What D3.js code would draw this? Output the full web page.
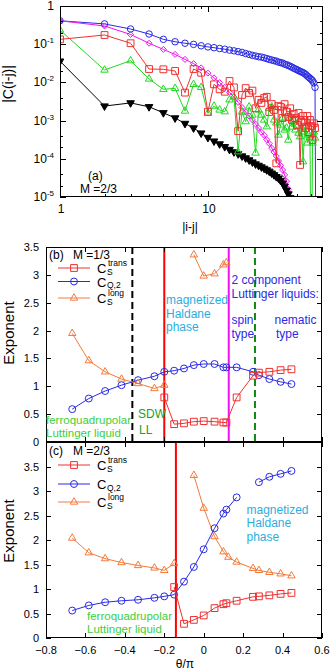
<!DOCTYPE html>
<html lang="en">
<head>
  <meta charset="UTF-8">
  <title>Correlations and exponents</title>
  <script src="https://d3js.org/d3.v7.min.js"></script>
  <style>
    body { margin: 0; background: #fff; }
    svg { display: block; font-family: "Liberation Sans", Arial, sans-serif; }
  </style>
</head>
<body>
  <svg width="332" height="670"></svg>

  <script>
    // ---- panel (a): |C(i-j)| against distance |i-j| = 1, 2, 3, ...
    const cQ2Vals = [0.41, 0.34, 0.25, 0.185, 0.134, 0.116, 0.106, 0.099, 0.091, 0.085,
      0.081, 0.077, 0.074, 0.070, 0.067, 0.064, 0.061, 0.057, 0.054, 0.051,
      0.049, 0.047, 0.046, 0.044, 0.042, 0.040, 0.0386, 0.037, 0.036, 0.034,
      0.033, 0.032, 0.030, 0.029, 0.0276, 0.0264, 0.025, 0.0236, 0.0225, 0.0215,
      0.0204, 0.0195, 0.0187, 0.018, 0.017, 0.0159, 0.0147, 0.0137, 0.0128, 0.012,
      0.011, 0.0097, 0.0074, 1e-9];
    const magentaVals = [0.41, 0.30, 0.18, 0.106, 0.073, 0.054, 0.040, 0.031, 0.024, 0.0175,
      0.0132, 0.0099, 0.0074, 0.0055, 0.0041, 0.0030, 0.0022, 0.00168, 0.00132, 0.00104,
      8.1e-4, 6.4e-4, 5.0e-4, 4.1e-4, 3.2e-4, 2.5e-4, 1.9e-4, 1.5e-4, 1.18e-4, 8.8e-5,
      6.7e-5, 5.1e-5, 3.8e-5, 2.6e-5, 1.6e-5, 1.0e-5, 6e-6];
    const blackVals = [0.036, 0.0024, 0.0029, 0.0023, 0.0016, 0.00117, 8.4e-4, 6.4e-4, 4.7e-4, 3.6e-4,
      2.9e-4, 2.44e-4, 2.07e-4, 1.75e-4, 1.51e-4, 1.34e-4, 1.18e-4, 1.05e-4, 9.3e-5, 8.2e-5,
      7.3e-5, 6.7e-5, 6.1e-5, 5.6e-5, 5.1e-5, 4.7e-5, 4.2e-5, 3.8e-5, 3.4e-5, 3.1e-5,
      2.7e-5, 2.3e-5, 1.9e-5, 1.5e-5, 1.2e-5, 9.5e-6];
    const redVals = [0.134, 0.174, 0.106, 0.0224, 0.022, 0.0199, 0.0054, 0.0224, 0.0179, 0.00171,
      0.0089, 0.0066, 0.0057, 0.0109, 0.0074, 5.3e-4, 0.0047, 0.0071, 0.0053, 0.0061,
      0.0021, 0.0035, 0.0029, 0.0039, 0.0042, 0.00168, 0.0027, 0.0019, 7.6e-5, 0.0024,
      0.0023, 0.00117, 0.0027, 0.00168, 0.00124, 0.0021, 0.00104, 0.00149, 0.00116, 7.7e-4,
      0.00158, 6.9e-5, 9.2e-4, 0.00132, 0.00104, 6.4e-4, 0.00132, 5.0e-4, 0.00104, 7.2e-4,
      3.1e-4, 8.5e-4, 6.4e-4];
    const greenVals = [0.235, 0.0211, 0.037, 0.0123, 0.0066, 0.0070, 0.00178, 0.0089, 0.0074, 0.00155,
      0.0024, 0.0019, 0.00171, 0.0035, 0.0042, 1.53e-4, 0.00168, 9.4e-4, 0.0023, 0.0014,
      1.42e-4, 0.0019, 0.0014, 0.00104, 6.9e-4, 0.0021, 0.0023, 0.00104, 8.7e-4, 4.2e-4,
      7.7e-4, 0.00117, 5.7e-4, 6.4e-4, 3.1e-4, 0.00124, 6.8e-4, 0.00104, 5.7e-4, 6.9e-4,
      4.7e-4, 3.8e-4, 6.4e-4, 8.4e-5, 5.1e-4, 6.9e-4, 2.6e-4, 4.2e-4, 3.7e-4, 1e-8,
      2.6e-4, 5.0e-4, 3.5e-4];
    const yTicksA = [1, 1e-1, 1e-2, 1e-3, 1e-4, 1e-5];
    const xTicksA = [1, 10];

    // ---- panel (b): exponents, M = 1/3
    const thetaB = [-0.667, -0.583, -0.5, -0.417, -0.333, -0.25, -0.2, -0.15, -0.1, -0.05,
      0, 0.055, 0.1, 0.115, 0.167, 0.25, 0.28, 0.333, 0.39, 0.445];
    const cQ2B = [0.59, 0.78, 0.915, 1.02, 1.11, 1.18, 1.26, 1.28, 1.32, 1.38,
      1.40, 1.40, 1.34, 1.34, 1.34, 1.26, 1.20, 1.13, 1.08, 1.04];
    const thetaTransB = [-0.2, -0.15, -0.1, -0.05, 0, 0.055, 0.1, 0.115, 0.167, 0.25, 0.28, 0.333, 0.39, 0.445];
    const transB = [0.80, 0.32, 0.335, 0.365, 0.375, 0.365, 0.35, 0.35, 0.80, 1.19, 1.245, 1.26, 1.29, 1.305];
    const thetaLongB = [-0.667, -0.583, -0.5, -0.417, -0.333, -0.25, -0.2, null, -0.05, 0, 0.055, 0.1, 0.115];
    const longB = [1.95, 1.46, 1.26, 1.13, 1.05, 0.96, 1.02, null, 3.36, 2.98, 3.02, 3.18, 3.22];
    const boundsB = [-0.362, -0.2, 0.127, 0.26];

    // ---- panel (c): exponents, M = 2/3
    const thetaTransC = [-0.15, -0.1, -0.05, 0, 0.055, 0.1, 0.115, 0.167, 0.25, 0.28, 0.333, 0.39, 0.445];
    const transC = [1.04, 0.29, 0.37, 0.46, 0.61, 0.69, 0.71, 0.76, 0.84, 0.85, 0.87, 0.90, 0.92];
    const thetaQ2C = [-0.667, -0.583, -0.5, -0.417, -0.333, -0.25, -0.2, -0.15, -0.1, -0.05,
      0, 0.055, 0.1, 0.115, 0.167, null, 0.28, 0.333, 0.39, 0.445];
    const cQ2C = [0.56, 0.665, 0.73, 0.76, 0.78, 0.82, 0.85, 0.885, 1.15, 1.45,
      1.81, 2.24, 2.54, 2.62, 2.87, null, 3.18, 3.29, 3.35, 3.41];
    const thetaLongC = [-0.667, -0.583, -0.5, -0.417, -0.333, -0.25, -0.2, -0.15, null, -0.05,
      0, 0.055, 0.1, 0.125, 0.167, 0.25, 0.28, 0.333, 0.39, 0.445];
    const longC = [2.04, 1.74, 1.62, 1.54, 1.48, 1.43, 1.38, 1.52, null, 3.32,
      2.65, 2.07, 1.76, 1.65, 1.55, 1.42, 1.38, 1.34, 1.31, 1.27];
    const boundsC = [-0.141];
    const xTicksT = [-0.8, -0.6, -0.4, -0.2, 0, 0.2, 0.4, 0.6];

    const RED = "#f03030", BLUE = "#2a2ae6", GREEN = "#22d822", MAGENTA = "#f010f0",
          ORANGE = "#f47a3a", CYAN = "#2aaee0", DKGREEN = "#118811";

    const svg = d3.select("svg");

    const boxA = { left: 60, right: 323, top: 6, bottom: 197 };
    const boxB = { left: 46, right: 322, top: 247, bottom: 442 };
    const boxC = { left: 46, right: 322, top: 442, bottom: 638 };

    const xA = d3.scaleLog().domain([1, 60]).range([boxA.left, boxA.right]);
    const yA = d3.scaleLog().domain([1e-5, 1]).range([boxA.bottom, boxA.top]);
    const xT = d3.scaleLinear().domain([-0.8, 0.6]).range([boxB.left, boxB.right]);
    const yB = d3.scaleLinear().domain([0, 3.5]).range([boxB.bottom, boxB.top]);
    const yC = d3.scaleLinear().domain([0, 4]).range([boxC.bottom, boxC.top]);

    const symbols = {
      circle: d3.symbol(d3.symbolCircle, 38)(),
      circleSmall: d3.symbol(d3.symbolCircle, 33)(),
      square: d3.symbol(d3.symbolSquare, 46)(),
      triangle: d3.symbol(d3.symbolTriangle, 24)(),
      triangleDown: d3.symbol(d3.symbolTriangle, 25)(),
      diamond: "M0,-3L3,0L0,3L-3,0Z"
    };

    function clipFor(id, b) {
      svg.append("clipPath").attr("id", id).append("rect")
        .attr("x", b.left).attr("y", b.top)
        .attr("width", b.right - b.left).attr("height", b.bottom - b.top);
      return svg.append("g").attr("clip-path", `url(#${id})`);
    }

    function series(g, xs, ys, xs_, ys_, color, sym, opts = {}) {
      const pts = xs.map((x, i) => ({ x, y: ys[i] }));
      const ok = d => d.x != null && d.y != null;
      const line = d3.line().defined(ok).x(d => xs_(d.x)).y(d => ys_(d.y));
      g.append("path").datum(pts)
        .attr("fill", "none").attr("stroke", color).attr("stroke-width", 1)
        .attr("d", line);
      g.selectAll(null).data(pts.filter(ok)).join("path")
        .attr("transform", d => `translate(${xs_(d.x)},${ys_(d.y)})${opts.flip ? " rotate(180)" : ""}`)
        .attr("d", symbols[sym])
        .attr("fill", opts.fill || "none")
        .attr("stroke", color).attr("stroke-width", 1);
    }

    function frame(b) {
      svg.append("rect")
        .attr("x", b.left + 0.5).attr("y", b.top + 0.5)
        .attr("width", b.right - b.left - 1).attr("height", b.bottom - b.top - 1)
        .attr("fill", "none").attr("stroke", "#000").attr("stroke-width", 1);
    }

    function tickX(scale, vals, b, len) {
      vals.forEach(v => {
        const x = Math.round(scale(v)) + 0.5;
        [[b.bottom, b.bottom - len], [b.top, b.top + len]].forEach(([y1, y2]) => {
          svg.append("line").attr("x1", x).attr("x2", x).attr("y1", y1).attr("y2", y2)
            .attr("stroke", "#000").attr("stroke-width", 1);
        });
      });
    }

    function tickY(scale, vals, b, len) {
      vals.forEach(v => {
        const y = Math.round(scale(v)) + 0.5;
        [[b.left, b.left + len], [b.right, b.right - len]].forEach(([x1, x2]) => {
          svg.append("line").attr("y1", y).attr("y2", y).attr("x1", x1).attr("x2", x2)
            .attr("stroke", "#000").attr("stroke-width", 1);
        });
      });
    }

    function label(x, y, txt, size, color, anchor) {
      return svg.append("text").attr("x", x).attr("y", y)
        .attr("font-size", size).attr("fill", color || "#000")
        .attr("text-anchor", anchor || "start").text(txt);
    }

    // ================= panel (a)
    const gA = clipFor("clipA", boxA);
    series(gA, cQ2Vals.map((_, i) => i + 1), cQ2Vals, xA, yA, BLUE, "circleSmall");
    series(gA, magentaVals.map((_, i) => i + 1), magentaVals, xA, yA, MAGENTA, "diamond");
    series(gA, blackVals.map((_, i) => i + 1), blackVals, xA, yA, "#000", "triangleDown", { fill: "#000", flip: true });
    series(gA, greenVals.map((_, i) => i + 1), greenVals, xA, yA, GREEN, "triangle");
    series(gA, redVals.map((_, i) => i + 1), redVals, xA, yA, RED, "square");
    frame(boxA);

    const minorX = [2, 3, 4, 5, 6, 7, 8, 9, 20, 30, 40, 50];
    tickX(xA, xTicksA, boxA, 6);
    tickX(xA, minorX, boxA, 3);
    tickY(yA, yTicksA, boxA, 6);
    const minorY = [];
    yTicksA.slice(1).forEach(v => minorY.push(v * 2, v * 4));
    tickY(yA, minorY, boxA, 3);

    yTicksA.forEach(v => {
      const t = svg.append("text").attr("x", 54).attr("y", yA(v) + 4)
        .attr("font-size", 12).attr("text-anchor", "end");
      const k = Math.round(Math.log10(v));
      if (k === 0) { t.text("1"); }
      else {
        t.append("tspan").text("10");
        t.append("tspan").attr("dy", -5).attr("font-size", 8).text(k);
      }
    });
    xTicksA.forEach(v => label(xA(v) + 1, 213, v, 12, "#000", "middle"));
    label(190, 231, "|i-j|", 12, "#000", "middle");
    svg.append("text").attr("transform", "translate(13,84) rotate(-90)")
      .attr("font-size", 14).attr("text-anchor", "middle").text("|C(i-j)|");
    label(88, 180, "(a)", 12);
    label(80, 193, "M =2/3", 12);

    // ================= panels (b) and (c): shared helpers
    function yTickLabels(scale, vals, skipTop) {
      vals.forEach((v, i) => {
        if (skipTop && i === vals.length - 1) return;
        label(39, scale(v) + 4, v, 11, "#000", "end");
      });
    }

    function legend(rows, x0) {
      rows.forEach(r => {
        svg.append("line").attr("x1", 58).attr("x2", 90).attr("y1", r.y).attr("y2", r.y)
          .attr("stroke", r.color).attr("stroke-width", 1);
        svg.append("path").attr("transform", `translate(74,${r.y})`)
          .attr("d", symbols[r.sym]).attr("fill", "none").attr("stroke", r.color);
        label(x0, r.y + 5, "C", 13);
        label(x0 + 10, r.y + 6.5, r.sub, 8.5);
        if (r.sup) label(x0 + 11, r.y - 2, r.sup, 8.5);
      });
    }

    function vline(g, theta, b, color, width, dash) {
      g.append("line")
        .attr("x1", xT(theta)).attr("x2", xT(theta))
        .attr("y1", b.top).attr("y2", b.bottom)
        .attr("stroke", color).attr("stroke-width", width)
        .attr("stroke-dasharray", dash || null);
    }

    const yValsB = [0, 0.5, 1, 1.5, 2, 2.5, 3, 3.5];
    const yValsC = [0, 0.5, 1, 1.5, 2, 2.5, 3, 3.5, 4];

    // ================= panel (b)
    const gB = clipFor("clipB", boxB);
    const boundStyle = [["#000", 2, "7,4"], ["#ff0000", 2], [MAGENTA, 2], [DKGREEN, 2, "7,4"]];
    boundsB.forEach((t, i) => vline(gB, t, boxB, ...boundStyle[i]));
    series(gB, thetaB, cQ2B, xT, yB, BLUE, "circle");
    series(gB, thetaLongB, longB, xT, yB, ORANGE, "triangle");
    series(gB, thetaTransB, transB, xT, yB, RED, "square");
    frame(boxB);
    tickX(xT, xTicksT, boxB, 5);
    tickY(yB, yValsB, boxB, 5);
    yTickLabels(yB, yValsB);

    label(49, 258.5, "(b)", 12);
    label(73, 258.5, "M =1/3", 12);
    legend([
      { y: 268, color: RED, sym: "square", sub: "S", sup: "trans" },
      { y: 281.5, color: BLUE, sym: "circle", sub: "Q,2" },
      { y: 298, color: ORANGE, sym: "triangle", sub: "S", sup: "long" }
    ], 97);

    label(166, 304, "magnetized", 12, CYAN);
    label(166, 317.5, "Haldane", 12, CYAN);
    label(166, 331, "phase", 12, CYAN);
    label(231.5, 284, "2 component", 12, BLUE);
    label(231.5, 298, "Luttinger liquids:", 12, BLUE);
    label(231.5, 324, "spin", 12, BLUE);
    label(231.5, 338, "type", 12, BLUE);
    label(274.5, 324, "nematic", 12, BLUE);
    label(276, 338, "type", 12, BLUE);
    label(46, 423.5, "ferroquadrupolar", 11.5, "#3ccf3c");
    label(46, 436.5, "Luttinger liquid", 11.5, "#3ccf3c");
    label(138, 417.5, "SDW", 12, "#22a022");
    label(139, 433.5, "LL", 12, "#22a022");

    // ================= panel (c)
    const gC = clipFor("clipC", boxC);
    boundsC.forEach(t => vline(gC, t, boxC, "#ff0000", 2));
    series(gC, thetaLongC, longC, xT, yC, ORANGE, "triangle");
    series(gC, thetaQ2C, cQ2C, xT, yC, BLUE, "circle");
    series(gC, thetaTransC, transC, xT, yC, RED, "square");
    frame(boxC);
    tickX(xT, xTicksT, boxC, 5);
    tickY(yC, yValsC, boxC, 5);
    yTickLabels(yC, yValsC, true);

    label(49, 454.5, "(c)", 12);
    label(73, 454.5, "M =2/3", 12);
    legend([
      { y: 465, color: RED, sym: "square", sub: "S", sup: "trans" },
      { y: 484, color: BLUE, sym: "circle", sub: "Q,2" },
      { y: 502, color: ORANGE, sym: "triangle", sub: "S", sup: "long" }
    ], 97);

    label(246.5, 513.5, "magnetized", 12, CYAN);
    label(246.5, 527, "Haldane", 12, CYAN);
    label(246.5, 540.5, "phase", 12, CYAN);
    label(87, 619.5, "ferroquadrupolar", 11.5, "#3ccf3c");
    label(87, 633, "Luttinger liquid", 11.5, "#3ccf3c");

    xTicksT.forEach(v => label(xT(v), 653.5, v === 0 ? "0" : d3.format(".1f")(v), 11, "#000", "middle"));
    label(185, 668, "θ/π", 12, "#000", "middle");

    svg.append("text").attr("transform", "translate(14,333) rotate(-90)")
      .attr("font-size", 15).attr("text-anchor", "middle").text("Exponent");
    svg.append("text").attr("transform", "translate(14,531) rotate(-90)")
      .attr("font-size", 15).attr("text-anchor", "middle").text("Exponent");
  </script>
</body>
</html>
